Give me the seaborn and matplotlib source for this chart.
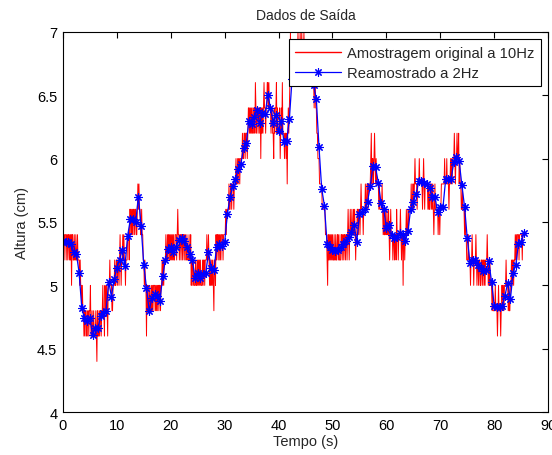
import numpy as np
import pandas as pd
import matplotlib
matplotlib.use("Agg")
import matplotlib.pyplot as plt
import seaborn as sns

# ---- data -------------------------------------------------------------
title = "Dados de Saída"
xlabel = "Tempo (s)"
ylabel = "Altura (cm)"
label_orig = "Amostragem original a 10Hz"
label_res = "Reamostrado a 2Hz"
fs_orig = 10.0
fs_res = 2.0

# 2 Hz resampled series (t = 0, 0.5, 1.0, ...)
resampled = [
    5.35, 5.34, 5.34, 5.33, 5.26, 5.25, 5.10, 4.82, 4.74, 4.72,
    4.74, 4.61, 4.66, 4.66, 4.76, 4.78, 4.80, 5.03, 4.91, 5.05,
    5.14, 5.20, 5.28, 5.15, 5.39, 5.52, 5.52, 5.50, 5.70, 5.47,
    5.16, 4.98, 4.80, 4.90, 4.93, 4.92, 4.88, 5.07, 5.20, 5.29,
    5.30, 5.26, 5.30, 5.36, 5.37, 5.35, 5.30, 5.25, 5.20, 5.06,
    5.10, 5.06, 5.09, 5.10, 5.26, 5.14, 5.12, 5.30, 5.33, 5.31,
    5.34, 5.56, 5.70, 5.78, 5.84, 5.92, 5.96, 6.08, 6.12, 6.30,
    6.27, 6.33, 6.38, 6.28, 6.36, 6.35, 6.50, 6.40, 6.28, 6.34,
    6.22, 6.30, 6.13, 6.14, 6.31, 6.63, 6.72, 6.80, 6.88, 6.85,
    6.78, 6.72, 6.66, 6.58, 6.47, 6.09, 5.76, 5.63, 5.33, 5.30,
    5.28, 5.27, 5.28, 5.30, 5.33, 5.35, 5.38, 5.42, 5.48, 5.34,
    5.56, 5.58, 5.60, 5.66, 5.78, 5.94, 5.93, 5.81, 5.65, 5.60,
    5.45, 5.48, 5.40, 5.37, 5.38, 5.41, 5.40, 5.35, 5.43, 5.60,
    5.66, 5.72, 5.82, 5.82, 5.81, 5.80, 5.77, 5.70, 5.70, 5.58,
    5.62, 5.62, 5.84, 5.84, 5.84, 5.97, 6.01, 5.98, 5.79, 5.62,
    5.37, 5.18, 5.20, 5.20, 5.16, 5.14, 5.11, 5.12, 5.19, 5.03,
    4.84, 4.83, 4.83, 4.84, 4.92, 5.02, 4.89, 5.10, 5.16, 5.33,
    5.34, 5.41,
]

# 10 Hz original (quantised) series
original = [
    5.4,5.4,5.2,5.4,5.4, 5.4,5.2,5.4,5.4,5.2, 5.4,5.4,5.2,5.4,5.2, 5.4,5.0,5.4,5.4,5.2,
    5.2,5.4,5.2,5.2,5.4, 5.2,5.2,5.4,5.2,5.2, 5.2,5.0,5.2,5.0,5.0, 4.8,5.0,4.8,4.8,4.6,
    4.8,4.6,4.8,4.8,4.6, 4.6,4.8,4.8,4.6,4.8, 4.8,5.0,4.6,4.6,4.8, 4.6,4.6,4.8,4.6,4.6,
    4.6,4.8,4.6,4.4,4.8, 4.6,4.6,4.8,4.6,4.8, 4.8,4.6,4.8,4.8,5.0, 4.8,4.8,4.6,5.0,4.8,
    4.8,5.0,4.8,4.6,5.0, 5.0,5.0,5.2,5.0,5.0, 5.0,4.8,4.8,5.0,5.0, 5.0,5.2,5.0,5.0,5.2,
    5.2,5.0,5.2,5.2,5.0, 5.2,5.4,5.2,5.0,5.2, 5.2,5.4,5.2,5.4,5.2, 5.2,5.0,5.2,5.2,5.2,
    5.4,5.4,5.4,5.2,5.6, 5.6,5.4,5.6,5.4,5.6, 5.4,5.6,5.6,5.4,5.6, 5.6,5.4,5.4,5.6,5.8,
    5.6,5.8,5.6,5.6,5.4, 5.4,5.6,5.4,5.4,5.2, 5.2,5.0,5.2,5.0,5.0, 4.6,5.0,4.8,5.0,4.8,
    4.8,5.0,4.8,4.8,5.0, 4.8,5.0,4.8,5.0,5.0, 5.0,4.8,5.0,4.8,5.0, 4.8,5.0,5.0,4.8,5.0,
    5.0,4.8,5.0,5.0,5.2, 5.0,5.2,5.0,5.2,5.2, 5.2,5.4,5.2,5.2,5.4, 5.2,5.4,5.4,5.2,5.4,
    5.2,5.4,5.2,5.4,5.2, 5.4,5.2,5.2,5.4,5.4, 5.4,5.2,5.4,5.6,5.4, 5.4,5.2,5.4,5.4,5.2,
    5.4,5.4,5.2,5.4,5.4, 5.2,5.4,5.4,5.2,5.2, 5.4,5.2,5.2,5.2,5.4, 5.2,5.2,5.4,5.0,5.2,
    5.2,5.0,5.2,5.0,5.0, 5.0,5.2,5.0,5.0,5.2, 5.0,5.2,5.0,5.2,5.0, 5.2,5.0,5.0,5.0,5.2,
    5.0,5.2,5.2,5.0,5.2, 5.2,5.2,5.4,5.2,5.2, 5.4,5.2,5.0,5.2,5.0, 5.0,5.2,5.0,5.2,5.0,
    4.8,5.2,5.2,5.0,5.4, 5.2,5.4,5.4,5.2,5.4, 5.4,5.2,5.4,5.2,5.4, 5.4,5.4,5.2,5.4,5.4,
    5.4,5.4,5.6,5.4,5.6, 5.6,5.6,5.6,5.8,5.6, 5.6,5.8,5.8,5.6,5.8, 5.8,5.8,5.6,5.8,5.8,
    5.8,6.0,5.8,5.8,6.0, 5.8,6.0,6.0,5.8,6.0, 6.0,6.0,6.0,6.2,6.0, 6.0,6.2,6.2,6.0,6.2,
    6.2,6.2,6.0,6.2,6.4, 6.4,6.2,6.4,6.2,6.4, 6.2,6.4,6.2,6.2,6.4, 6.4,6.2,6.6,6.4,6.2,
    6.4,6.4,6.2,6.4,6.4, 6.2,6.4,6.0,6.4,6.2, 6.4,6.2,6.4,6.6,6.4, 6.4,6.2,6.4,6.4,6.6,
    6.6,6.4,6.6,6.4,6.4, 6.4,6.2,6.4,6.4,6.2, 6.2,6.0,6.4,6.2,6.4, 6.4,6.6,6.2,6.4,6.2,
    6.2,6.2,6.4,6.0,6.2, 6.4,6.2,6.6,6.2,6.2, 6.2,6.0,6.2,6.2,6.0, 6.2,5.8,6.2,6.4,6.2,
    6.4,6.6,7.0,6.6,6.6, 6.6,6.8,6.6,6.6,6.8, 6.8,6.6,6.8,6.8,6.6, 6.8,7.0,6.8,6.8,6.8,
    7.0,6.8,6.8,7.0,6.8, 6.8,6.8,7.0,6.8,6.8, 6.8,6.6,6.8,6.8,6.8, 6.6,6.8,6.6,6.8,6.6,
    6.6,6.6,6.8,6.6,6.6, 6.6,6.4,6.6,6.6,6.4, 6.4,6.2,6.2,6.0,6.0, 6.0,5.8,5.8,5.8,5.8,
    5.8,5.6,5.6,5.6,5.6, 5.6,5.6,5.4,5.4,5.4, 5.2,5.0,5.4,5.2,5.4, 5.2,5.4,5.2,5.4,5.2,
    5.4,5.2,5.2,5.4,5.2, 5.2,5.4,5.2,5.2,5.4, 5.4,5.2,5.4,5.2,5.2, 5.2,5.4,5.4,5.2,5.4,
    5.4,5.2,5.4,5.4,5.2, 5.4,5.4,5.2,5.4,5.6, 5.4,5.2,5.4,5.6,5.4, 5.4,5.6,5.4,5.4,5.6,
    5.4,5.6,5.4,5.2,5.4, 5.4,5.6,5.6,5.4,5.6, 5.6,5.4,5.6,5.8,5.6, 5.6,5.6,5.4,5.6,5.6,
    5.6,5.8,5.6,5.6,5.8, 5.8,5.6,5.8,5.8,5.8, 5.8,6.0,6.2,5.8,6.0, 6.0,5.8,6.0,6.2,6.0,
    5.8,6.0,5.8,5.8,5.8, 5.8,5.6,5.8,5.6,5.6, 5.6,5.6,5.8,5.6,5.4, 5.6,5.4,5.4,5.6,5.4,
    5.4,5.6,5.4,5.4,5.6, 5.4,5.2,5.4,5.6,5.4, 5.4,5.4,5.2,5.4,5.4, 5.2,5.4,5.4,5.2,5.6,
    5.4,5.4,5.2,5.4,5.4, 5.4,5.6,5.4,5.2,5.4, 5.4,5.0,5.4,5.4,5.2, 5.4,5.4,5.6,5.4,5.4,
    5.6,5.4,5.6,5.6,5.6, 5.6,5.8,5.6,5.6,5.8, 5.8,5.6,5.8,6.0,5.8, 5.8,5.8,5.6,5.8,5.8,
    5.8,6.0,5.8,5.8,5.8, 5.8,5.8,5.6,5.8,6.0, 5.8,5.6,5.8,5.8,5.8, 5.8,5.8,5.6,5.8,5.6,
    5.6,5.8,5.8,5.6,5.8, 5.6,5.8,5.6,5.4,5.6, 5.8,5.6,5.6,5.6,5.6, 5.6,5.4,5.6,5.6,5.4,
    5.6,5.6,5.8,5.8,5.8, 5.8,5.8,5.8,6.0,5.8, 5.8,5.8,6.0,5.8,5.8, 5.8,5.6,5.8,5.8,6.0,
    5.8,6.0,5.8,6.0,6.0, 6.0,6.2,6.0,5.8,6.0, 6.0,6.2,6.0,6.0,6.2, 5.8,6.0,5.8,5.8,5.6,
    5.6,5.8,5.6,5.6,5.6, 5.4,5.6,5.4,5.4,5.2, 5.2,5.2,5.4,5.2,5.2, 5.2,5.0,5.2,5.2,5.4,
    5.2,5.2,5.0,5.2,5.2, 5.2,5.4,5.2,5.0,5.2, 5.2,5.0,5.2,5.2,5.0, 5.0,5.2,5.2,5.0,5.2,
    5.2,5.0,5.2,5.0,5.2, 5.2,5.2,5.4,5.2,5.0, 5.2,5.0,5.2,5.0,5.0, 5.0,4.8,5.0,4.8,4.8,
    4.8,4.8,5.0,4.8,4.8, 4.8,4.6,4.8,5.0,4.8, 4.8,4.8,4.6,4.8,5.0, 5.0,4.8,5.0,4.8,5.0,
    5.0,5.0,5.2,5.0,5.0, 5.0,4.8,5.0,4.8,4.8, 5.0,5.0,5.2,5.0,5.2, 5.2,5.0,5.2,5.2,5.4,
    5.2,5.4,5.2,5.4,5.4, 5.4,5.2,5.4,5.4,5.4, 5.4,5.4,5.2,5.4,5.4, 5.4,5.4,5.4,5.4,5.4,
]

xticks = [0, 10, 20, 30, 40, 50, 60, 70, 80, 90]
yticks = [4, 4.5, 5, 5.5, 6, 6.5, 7]

# ---- frames -----------------------------------------------------------
df_orig = pd.DataFrame({"t": np.arange(len(original)) / fs_orig, "y": original})
df_res = pd.DataFrame({"t": np.arange(len(resampled)) / fs_res, "y": resampled})

sns.set_style("white")
plt.rcParams["font.family"] = ["Liberation Sans", "DejaVu Sans"]

fig = plt.figure(figsize=(5.52, 4.56), dpi=100)
ax = fig.add_axes([0.114, 0.094, 0.879, 0.834])

sns.lineplot(data=df_orig, x="t", y="y", ax=ax, color="#ff0000", lw=0.7,
             estimator=None, sort=False, label=label_orig)
sns.lineplot(data=df_res, x="t", y="y", ax=ax, color="#0000ff", lw=0.9,
             marker=(8, 2, 0), markersize=6, markeredgewidth=0.8,
             markeredgecolor="#0000ff", estimator=None, sort=False,
             label=label_res)

ax.set_xlim(0, 90)
ax.set_ylim(4, 7)
ax.set_xticks(xticks)
ax.set_yticks(yticks)
ax.set_xticklabels([str(v) for v in xticks])
ax.set_yticklabels(["4", "4.5", "5", "5.5", "6", "6.5", "7"])
ax.tick_params(direction="in", length=4, width=0.8, top=True, right=True,
               labelsize=10.5, pad=4, colors="#000000")
for s in ax.spines.values():
    s.set_visible(True)
    s.set_color("#000000")
    s.set_linewidth(0.8)

ax.set_title(title, fontsize=10, pad=9)
ax.set_xlabel(xlabel, fontsize=10.5, labelpad=2)
ax.set_ylabel(ylabel, fontsize=10.5, labelpad=6)

leg = ax.legend(loc="upper right", fontsize=10.6, frameon=True, fancybox=False,
                framealpha=1, edgecolor="#000000", borderpad=0.45,
                handlelength=3.1, labelspacing=0.4, borderaxespad=0.5,
                handletextpad=0.4)
leg.get_frame().set_linewidth(0.8)
leg_lines = leg.get_lines()
leg_lines[0].set_color("#ff0000")
leg_lines[0].set_linewidth(1.0)
leg_lines[1].set_color("#0000ff")
leg.set_zorder(10)

fig.savefig("out.png", dpi=100)
